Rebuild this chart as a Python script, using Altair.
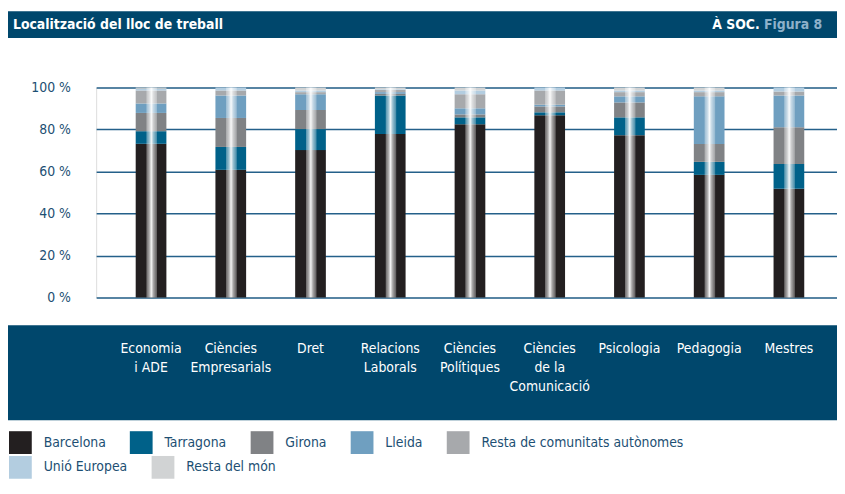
import altair as alt
import pandas as pd

# ---- data ----
categories = ["Economia\ni ADE", "Ciències\nEmpresarials", "Dret", "Relacions\nLaborals",
              "Ciències\nPolítiques", "Ciències\nde la\nComunicació", "Psicologia",
              "Pedagogia", "Mestres"]
series = ["Barcelona", "Tarragona", "Girona", "Lleida",
          "Resta de comunitats autònomes", "Unió Europea", "Resta del món"]
barcelona = [73.2, 60.8, 70.2, 77.9, 82.5, 86.8, 77.3, 58.4, 51.8]
tarragona = [6.0, 10.9, 10.0, 18.3, 3.3, 1.4, 8.5, 6.2, 11.8]
girona = [8.7, 13.8, 9.1, 0.8, 1.4, 2.8, 7.1, 8.5, 17.5]
lleida = [4.5, 10.7, 7.5, 0.8, 2.9, 0.8, 2.9, 22.7, 15.1]
resta_ccaa = [6.2, 2.4, 1.0, 1.1, 6.7, 6.8, 2.0, 2.0, 1.9]
unio_europea = [0.8, 1.4, 0.8, 0.3, 1.8, 1.4, 0.8, 0.8, 1.9]
resta_mon = [0.6, 0.0, 1.4, 0.8, 1.4, 0.0, 1.4, 1.4, 0.0]
y_ticks = [0, 20, 40, 60, 80, 100]

title_text = "Localització del lloc de treball"
source_text = "À SOC."
figure_text = "Figura 8"

colors = ["#231f20", "#006189", "#808285", "#6f9fc0", "#a7a9ac", "#b3cde0", "#d1d3d4"]
DARK = "#00476c"
TEXT = "#1d4f73"
FONT = "Liberation Sans Narrow, DejaVu Sans Condensed, Open Sans, sans-serif"
FS = 14

values = [barcelona, tarragona, girona, lleida, resta_ccaa, unio_europea, resta_mon]
rows = []
for si, (s, vals) in enumerate(zip(series, values)):
    for c, v in zip(categories, vals):
        rows.append({"cat": c, "serie": s, "idx": si, "value": v})
df = pd.DataFrame(rows)

W, H = 748, 212
one = alt.Data(values=[{"k": 1}])

title_band = alt.Chart(one).mark_rect(color=DARK).encode(
    x=alt.value(-89), x2=alt.value(W), y=alt.value(-77), y2=alt.value(-50))
axis_band = alt.Chart(one).mark_rect(color=DARK).encode(
    x=alt.value(-89), x2=alt.value(W), y=alt.value(240), y2=alt.value(336))

x_enc = alt.X("cat:N", sort=categories,
              scale=alt.Scale(paddingInner=0.615, paddingOuter=0.4534, align=0.547),
              axis=alt.Axis(title=None, labelExpr="split(datum.label, '\\n')",
                            labelAngle=0, labelColor="white", labelFontSize=FS,
                            labelLineHeight=19, labelBaseline="top", labelPadding=45,
                            labelOverlap=False, labelLimit=0, domain=False, ticks=False,
                            grid=False, zindex=1))
y_enc = alt.Y("y0:Q", scale=alt.Scale(domain=[0, 100], nice=False),
              axis=alt.Axis(title=None, values=y_ticks, labelExpr="datum.value + ' %'",
                            labelColor=TEXT, labelFontSize=FS, labelPadding=26,
                            domain=False, ticks=False, grid=True, gridColor="#24608a",
                            gridWidth=1.5))


def legend(y):
    return alt.Legend(title=None, orient="none", legendX=-88, legendY=y,
                      direction="horizontal", symbolType="square", symbolSize=529,
                      symbolStrokeWidth=0, symbolOpacity=1, labelFontSize=FS,
                      labelColor=TEXT, labelOffset=12, columnPadding=24, padding=0,
                      labelLimit=0)


stacked = alt.Chart(df).transform_stack(
    stack="value", as_=["y0", "y1"], groupby=["cat"],
    sort=[alt.SortField(field="idx", order="ascending")])

bars_a = stacked.transform_filter("datum.idx < 5").mark_bar(strokeWidth=0).encode(
    x=x_enc, y=y_enc, y2="y1:Q",
    fill=alt.Fill("serie:N", sort=series[:5],
                  scale=alt.Scale(domain=series[:5], range=colors[:5]),
                  legend=legend(347)))
bars_b = stacked.transform_filter("datum.idx >= 5").mark_bar(strokeWidth=0).encode(
    x=alt.X("cat:N", sort=categories), y=alt.Y("y0:Q"), y2="y1:Q",
    fill=alt.Fill("serie:N", sort=series[5:],
                  scale=alt.Scale(domain=series[5:], range=colors[5:]),
                  legend=legend(372)))

gloss = alt.Chart(df).transform_aggregate(
    total="sum(value)", groupby=["cat"]
).mark_bar(
    fill=alt.Gradient(
        gradient="linear", x1=0, x2=1, y1=0, y2=0,
        stops=[
            alt.GradientStop(offset=0, color="rgba(255,255,255,0)"),
            alt.GradientStop(offset=0.34, color="rgba(255,255,255,0)"),
            alt.GradientStop(offset=0.36, color="rgba(255,255,255,0.35)"),
            alt.GradientStop(offset=0.44, color="rgba(255,255,255,0.6)"),
            alt.GradientStop(offset=0.51, color="rgba(255,255,255,0.95)"),
            alt.GradientStop(offset=0.58, color="rgba(255,255,255,0.6)"),
            alt.GradientStop(offset=0.68, color="rgba(255,255,255,0.3)"),
            alt.GradientStop(offset=0.71, color="rgba(255,255,255,0)"),
            alt.GradientStop(offset=1, color="rgba(255,255,255,0)"),
        ]),
    strokeWidth=0,
).encode(x=alt.X("cat:N", sort=categories), y=alt.Y("total:Q"))

title = alt.Chart(one).mark_text(align="left", baseline="middle", fontSize=FS,
                                 fontWeight="bold", color="white").encode(
    x=alt.value(-84), y=alt.value(-63), text=alt.value(title_text))
soc = alt.Chart(one).mark_text(align="right", baseline="middle", fontSize=FS,
                               fontWeight="bold", color="white").encode(
    x=alt.value(670), y=alt.value(-63), text=alt.value(source_text))
fig = alt.Chart(one).mark_text(align="right", baseline="middle", fontSize=FS,
                               fontWeight="bold", color="#8db1ca").encode(
    x=alt.value(733), y=alt.value(-63), text=alt.value(figure_text))

chart = alt.layer(title_band, axis_band, bars_a, bars_b, gloss, title, soc, fig).resolve_scale(
    fill="independent"
).properties(
    width=W, height=H,
    autosize=alt.AutoSizeParams(type="none"),
    padding={"left": 89, "top": 78, "right": 0, "bottom": 184},
).configure_view(stroke=None).configure(font=FONT)

chart.save("out.html", embed_options={"renderer": "svg", "actions": False})
